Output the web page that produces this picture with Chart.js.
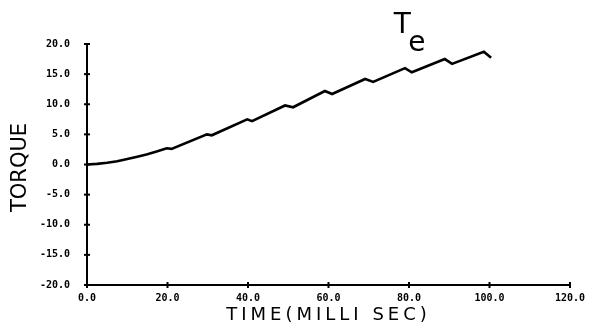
<!DOCTYPE html>
<html>
<head>
<meta charset="utf-8">
<script src="https://cdn.jsdelivr.net/npm/chart.js@4/dist/chart.umd.min.js"></script>
<style>
html,body{margin:0;padding:0;background:#fff;}
#wrap{width:596px;height:329px;position:relative;}
</style>
</head>
<body>
<div id="wrap"><canvas id="c" width="596" height="329"></canvas></div>
<script>
// Time (milliseconds)
const timeMs = [0, 2.5, 5, 7.5, 10, 12.5, 15, 17.5, 19.8, 21, 29.8, 31, 39.8, 41, 49.2, 51.2, 59.1, 60.9, 69.1, 71.1, 79, 80.7, 88.9, 90.7, 98.6, 100.4];
// Electromagnetic torque T_e
const torque = [0, 0.1, 0.3, 0.55, 0.9, 1.3, 1.7, 2.2, 2.7, 2.6, 5.0, 4.85, 7.5, 7.2, 9.8, 9.5, 12.2, 11.7, 14.2, 13.7, 16.0, 15.3, 17.5, 16.7, 18.7, 17.7];
const xTicks = [0, 20, 40, 60, 80, 100, 120];
const yTicks = [-20, -15, -10, -5, 0, 5, 10, 15, 20];
const xTitle = 'TIME(MILLI SEC)';
const yTitle = 'TORQUE';
const curveLabel = 'T';
const curveSub = 'e';

const points = timeMs.map((t, i) => ({x: t, y: torque[i]}));

const decorPlugin = {
  id: 'decor',
  afterDraw(chart) {
    const ctx = chart.ctx;
    const xs = chart.scales.x, ys = chart.scales.y;
    const ax = xs.getPixelForValue(0);
    const ay = ys.getPixelForValue(-20);
    ctx.save();
    ctx.strokeStyle = '#000';
    ctx.lineWidth = 2;
    // tick crosses
    yTicks.forEach(v => {
      const py = ys.getPixelForValue(v);
      ctx.beginPath(); ctx.moveTo(ax - 3, py); ctx.lineTo(ax + 3, py); ctx.stroke();
    });
    xTicks.forEach(v => {
      const px = xs.getPixelForValue(v);
      ctx.beginPath(); ctx.moveTo(px, ay - 3); ctx.lineTo(px, ay + 3); ctx.stroke();
    });
    // axis titles
    ctx.fillStyle = '#000';
    ctx.textAlign = 'center';
    ctx.textBaseline = 'middle';
    ctx.font = '18px "DejaVu Sans"';
    ctx.letterSpacing = '4px';
    ctx.fillText(xTitle, (xs.left + xs.right) / 2 + 0, 315);
    ctx.save();
    ctx.translate(21, (ys.top + ys.bottom) / 2 + 3);
    ctx.rotate(-Math.PI / 2);
    ctx.font = '21px "DejaVu Sans"';
    ctx.letterSpacing = '0px';
    ctx.fillText(yTitle, 0, 0);
    ctx.restore();
    // curve label
    ctx.letterSpacing = '0px';
    ctx.textAlign = 'left';
    ctx.textBaseline = 'alphabetic';
    ctx.font = '28px "DejaVu Sans"';
    ctx.fillText(curveLabel, xs.getPixelForValue(76.2), ys.getPixelForValue(21.8));
    ctx.font = '28px "DejaVu Sans"';
    ctx.fillText(curveSub, xs.getPixelForValue(79.8), ys.getPixelForValue(18.9));
    ctx.restore();
  }
};

new Chart(document.getElementById('c'), {
  type: 'line',
  data: {
    datasets: [{
      data: points,
      borderColor: '#000',
      borderWidth: 2.6,
      pointRadius: 0,
      tension: 0,
      fill: false
    }]
  },
  options: {
    responsive: false,
    animation: false,
    devicePixelRatio: 1,
    layout: {padding: {left: 0, top: 44, right: 26, bottom: 0}},
    plugins: {legend: {display: false}, tooltip: {enabled: false}},
    scales: {
      x: {
        type: 'linear',
        min: 0, max: 120,
        afterBuildTicks: s => { s.ticks = xTicks.map(v => ({value: v})); },
        afterFit: s => { s.height = 44; },
        grid: {display: true, drawOnChartArea: false, drawTicks: false},
        border: {color: '#000', width: 2},
        ticks: {
          color: '#000',
          padding: 7,
          maxRotation: 0,
          font: {family: '"DejaVu Sans Mono"', size: 10, weight: 'bold'},
          callback: v => Number(v).toFixed(1)
        }
      },
      y: {
        type: 'linear',
        min: -20, max: 20,
        afterBuildTicks: s => { s.ticks = yTicks.map(v => ({value: v})); },
        afterFit: s => { s.width = 87; },
        grid: {display: true, drawOnChartArea: false, drawTicks: false},
        border: {color: '#000', width: 2},
        ticks: {
          color: '#000',
          padding: 17,
          font: {family: '"DejaVu Sans Mono"', size: 10, weight: 'bold'},
          callback: v => Number(v).toFixed(1)
        }
      }
    }
  },
  plugins: [decorPlugin]
});
</script>
</body>
</html>
